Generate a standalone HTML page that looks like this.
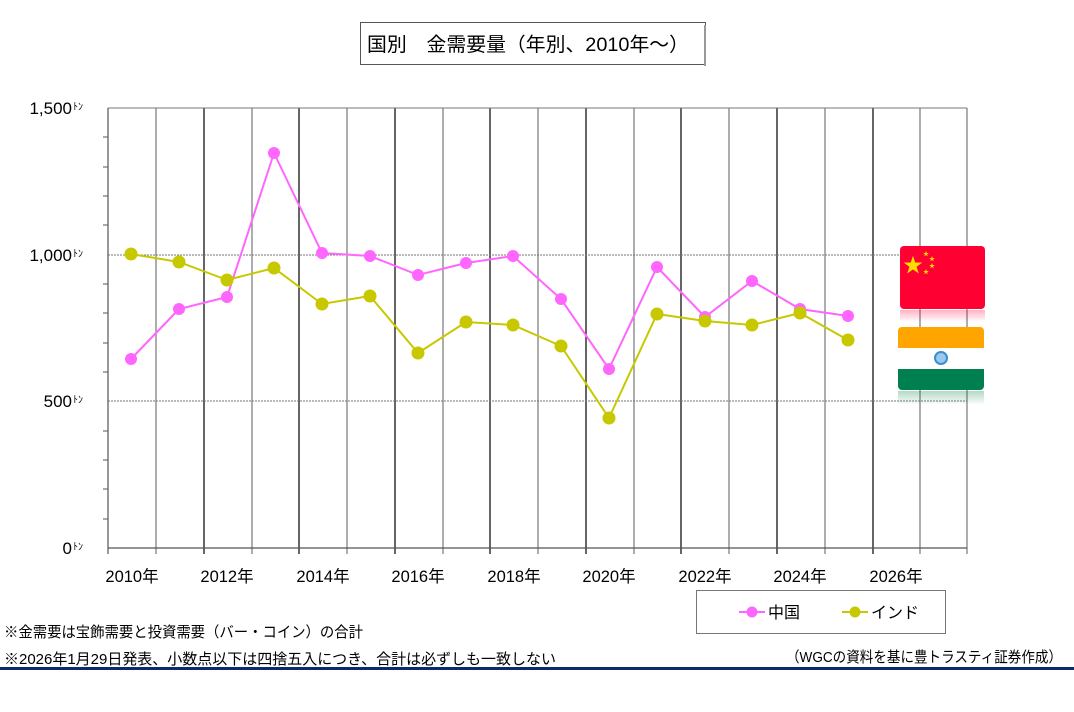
<!DOCTYPE html>
<html><head><meta charset="utf-8"><style>
body{margin:0;background:#fff;}
svg text{font-family:"Liberation Sans","Noto Sans CJK JP",sans-serif;}
</style></head><body>
<svg width="1074" height="707" xmlns="http://www.w3.org/2000/svg">
<defs>
<linearGradient id="rr" x1="0" y1="0" x2="0" y2="1"><stop offset="0" stop-color="#ff0033" stop-opacity="0.3"/><stop offset="1" stop-color="#ff0033" stop-opacity="0"/></linearGradient>
<linearGradient id="gg" x1="0" y1="0" x2="0" y2="1"><stop offset="0" stop-color="#008040" stop-opacity="0.3"/><stop offset="1" stop-color="#008040" stop-opacity="0"/></linearGradient>
</defs>
<rect width="1074" height="707" fill="#fff"/>
<rect x="360.5" y="22.5" width="345" height="42" fill="#fff" stroke="#555"/>
<line x1="705" y1="25" x2="705" y2="66" stroke="#999" stroke-width="2"/>
<text x="367" y="51" font-size="19.5" fill="#000" textLength="322" lengthAdjust="spacingAndGlyphs">国別　金需要量（年別、2010年～）</text>
<g stroke-width="1.2">
<line x1="156" y1="108" x2="156" y2="554" stroke="#777"/>
<line x1="204" y1="108" x2="204" y2="554" stroke="#000"/>
<line x1="252" y1="108" x2="252" y2="554" stroke="#777"/>
<line x1="299" y1="108" x2="299" y2="554" stroke="#000"/>
<line x1="347" y1="108" x2="347" y2="554" stroke="#777"/>
<line x1="395" y1="108" x2="395" y2="554" stroke="#000"/>
<line x1="443" y1="108" x2="443" y2="554" stroke="#777"/>
<line x1="490" y1="108" x2="490" y2="554" stroke="#000"/>
<line x1="538" y1="108" x2="538" y2="554" stroke="#777"/>
<line x1="586" y1="108" x2="586" y2="554" stroke="#000"/>
<line x1="634" y1="108" x2="634" y2="554" stroke="#777"/>
<line x1="681" y1="108" x2="681" y2="554" stroke="#000"/>
<line x1="729" y1="108" x2="729" y2="554" stroke="#777"/>
<line x1="777" y1="108" x2="777" y2="554" stroke="#000"/>
<line x1="825" y1="108" x2="825" y2="554" stroke="#777"/>
<line x1="873" y1="108" x2="873" y2="554" stroke="#000"/>
<line x1="920" y1="108" x2="920" y2="554" stroke="#777"/>
<line x1="967" y1="108" x2="967" y2="554" stroke="#777"/>
</g>
<line x1="108" y1="108" x2="967" y2="108" stroke="#777"/>
<line x1="108" y1="255" x2="967" y2="255" stroke="#777" stroke-dasharray="2,1"/>
<line x1="108" y1="401" x2="967" y2="401" stroke="#777" stroke-dasharray="2,1"/>
<line x1="108" y1="548" x2="967" y2="548" stroke="#555" stroke-width="1.2"/>
<line x1="108" y1="108" x2="108" y2="554" stroke="#555" stroke-width="1.2"/>
<g stroke="#555">
<line x1="103" y1="137" x2="108" y2="137"/><line x1="103" y1="167" x2="108" y2="167"/><line x1="103" y1="196" x2="108" y2="196"/><line x1="103" y1="225" x2="108" y2="225"/>
<line x1="103" y1="284" x2="108" y2="284"/><line x1="103" y1="313" x2="108" y2="313"/><line x1="103" y1="343" x2="108" y2="343"/><line x1="103" y1="372" x2="108" y2="372"/>
<line x1="103" y1="431" x2="108" y2="431"/><line x1="103" y1="460" x2="108" y2="460"/><line x1="103" y1="489" x2="108" y2="489"/><line x1="103" y1="519" x2="108" y2="519"/>
</g>
<g font-size="17" fill="#000" text-anchor="end">
<text x="72" y="114">1,500</text><text x="72" y="261">1,000</text><text x="72" y="407">500</text><text x="72" y="554">0</text>
</g>
<g font-size="10" fill="#000"><text x="73" y="110">ﾄﾝ</text><text x="73" y="257">ﾄﾝ</text><text x="73" y="403">ﾄﾝ</text><text x="73" y="550">ﾄﾝ</text></g>
<g font-size="16.5" fill="#000" text-anchor="middle">
<text x="132" y="582">2010年</text><text x="227" y="582">2012年</text><text x="323" y="582">2014年</text><text x="418" y="582">2016年</text><text x="514" y="582">2018年</text><text x="609" y="582">2020年</text><text x="705" y="582">2022年</text><text x="800" y="582">2024年</text><text x="896" y="582">2026年</text>
</g>
<rect x="900" y="246" width="85" height="63" rx="4" fill="#ff0033"/>
<rect x="900" y="310" width="85" height="12" fill="url(#rr)"/>
<text x="913" y="272" font-size="20" fill="#ffdd00" text-anchor="middle">★</text>
<g font-size="6" fill="#ffdd00" text-anchor="middle"><text x="926" y="256">★</text><text x="932" y="261">★</text><text x="932" y="268">★</text><text x="926" y="274">★</text></g>
<rect x="898" y="327" width="86" height="24" rx="4" fill="#ffa500"/>
<rect x="898" y="348" width="86" height="21" fill="#fff"/>
<rect x="898" y="369" width="86" height="21" rx="4" fill="#008050"/>
<rect x="898" y="369" width="86" height="6" fill="#008050"/>
<rect x="898" y="391" width="86" height="14" fill="url(#gg)"/>
<circle cx="941" cy="358" r="6" fill="#9cc8ee" stroke="#3a8fd0" stroke-width="2"/>
<polyline fill="none" stroke="#ff66ff" stroke-width="2" points="131,359 179,309 227,297 274,153 322,253 370,256 418,275 466,263 513,256 561,299 609,369 657,267 705,317 752,281 800,309 848,316"/>
<g fill="#ff66ff"><circle cx="131" cy="359" r="6"/><circle cx="179" cy="309" r="6"/><circle cx="227" cy="297" r="6"/><circle cx="274" cy="153" r="6"/><circle cx="322" cy="253" r="6"/><circle cx="370" cy="256" r="6"/><circle cx="418" cy="275" r="6"/><circle cx="466" cy="263" r="6"/><circle cx="513" cy="256" r="6"/><circle cx="561" cy="299" r="6"/><circle cx="609" cy="369" r="6"/><circle cx="657" cy="267" r="6"/><circle cx="705" cy="317" r="6"/><circle cx="752" cy="281" r="6"/><circle cx="800" cy="309" r="6"/><circle cx="848" cy="316" r="6"/></g>
<polyline fill="none" stroke="#c8c800" stroke-width="2" points="131,254 179,262 227,280 274,268 322,304 370,296 418,353 466,322 513,325 561,346 609,418 657,314 705,321 752,325 800,313 848,340"/>
<g fill="#c8c800"><circle cx="131" cy="254" r="6.5"/><circle cx="179" cy="262" r="6.5"/><circle cx="227" cy="280" r="6.5"/><circle cx="274" cy="268" r="6.5"/><circle cx="322" cy="304" r="6.5"/><circle cx="370" cy="296" r="6.5"/><circle cx="418" cy="353" r="6.5"/><circle cx="466" cy="322" r="6.5"/><circle cx="513" cy="325" r="6.5"/><circle cx="561" cy="346" r="6.5"/><circle cx="609" cy="418" r="6.5"/><circle cx="657" cy="314" r="6.5"/><circle cx="705" cy="321" r="6.5"/><circle cx="752" cy="325" r="6.5"/><circle cx="800" cy="313" r="6.5"/><circle cx="848" cy="340" r="6.5"/></g>
<rect x="696.5" y="590.5" width="249" height="43" fill="#fff" stroke="#777"/>
<line x1="739" y1="612" x2="765" y2="612" stroke="#ff66ff" stroke-width="2"/><circle cx="752" cy="612" r="5.5" fill="#ff66ff"/>
<text x="768" y="618" font-size="16">中国</text>
<line x1="842" y1="612" x2="868" y2="612" stroke="#c8c800" stroke-width="2"/><circle cx="855" cy="612" r="5.5" fill="#c8c800"/>
<text x="871" y="618" font-size="16">インド</text>
<text x="4" y="637" font-size="15" textLength="359" lengthAdjust="spacingAndGlyphs">※金需要は宝飾需要と投資需要（バー・コイン）の合計</text>
<text x="4" y="664" font-size="15" textLength="552" lengthAdjust="spacingAndGlyphs">※2026年1月29日発表、小数点以下は四捨五入につき、合計は必ずしも一致しない</text>
<text x="786" y="662" font-size="15" textLength="276" lengthAdjust="spacingAndGlyphs">（WGCの資料を基に豊トラスティ証券作成）</text>
<rect x="0" y="667" width="1074" height="3" fill="#0d2a6b"/>
</svg>
</body></html>
